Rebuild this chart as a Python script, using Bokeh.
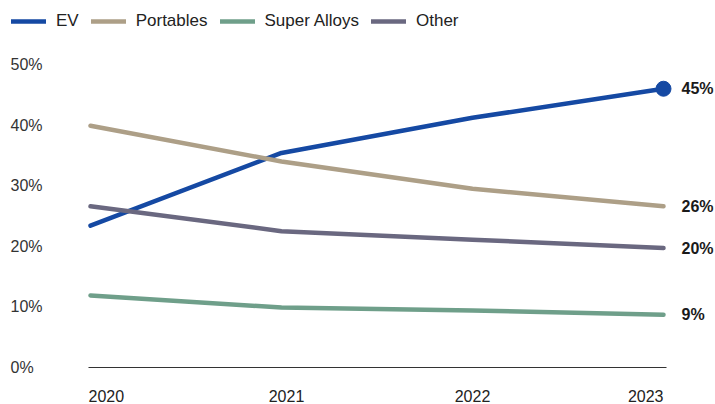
from bokeh.plotting import figure
from bokeh.models import Range1d, ColumnDataSource, Legend, LegendItem
from bokeh.core.properties import value
from bokeh.embed import file_html
from bokeh.resources import INLINE

years = [2020, 2021, 2022, 2023]
series_names = ["EV", "Portables", "Super Alloys", "Other"]
ev = [23.4, 35.4, 41.2, 46.0]
portables = [39.9, 34.0, 29.5, 26.6]
super_alloys = [11.9, 9.9, 9.4, 8.7]
other = [26.6, 22.5, 21.1, 19.7]
end_labels = ["45%", "26%", "9%", "20%"]
y_ticks = [0, 10, 20, 30, 40, 50]
y_tick_labels = ["0%", "10%", "20%", "30%", "40%", "50%"]
colors = ["#1549a3", "#ad9f87", "#6f9f8a", "#6a6880"]

W, H = 715, 404
# pixel layout: 2020 at x=90, 2023 at x=663; 0% at y=367, 10% = 60.6 px
px_per_year = (663 - 90) / 3.0
x0 = years[0] - 90 / px_per_year
x1 = years[-1] + (W - 663) / px_per_year
px_per_pct = 6.06
y_bottom = -(H - 367) / px_per_pct
y_top = 367 / px_per_pct

p = figure(width=W, height=H, output_backend="svg", toolbar_location=None,
           x_range=Range1d(x0, x1), y_range=Range1d(y_bottom, y_top),
           x_axis_type=None, y_axis_type=None,
           min_border=0, min_border_left=0, min_border_right=0,
           min_border_top=0, min_border_bottom=0)
p.outline_line_color = None
p.grid.visible = False
p.background_fill_color = "white"
p.border_fill_color = "white"

FONT = value("Liberation Sans")

# baseline
p.segment(x0=[years[0] - 2 / px_per_year], y0=[0], x1=[years[-1] + 3 / px_per_year], y1=[0],
          line_color="#333333", line_width=1.2)

data = [ev, portables, super_alloys, other]
items = []
for name, vals, col in zip(series_names, data, colors):
    r = p.line(years, vals, line_color=col, line_width=4.5, line_cap="round", line_join="round")
    items.append(LegendItem(label=name, renderers=[r]))

# EV end marker
p.scatter([years[-1]], [ev[-1]], size=15, color=colors[0])

# end labels
end_vals = [ev[-1], portables[-1], super_alloys[-1], other[-1]]
p.text(x=[years[-1]] * 4, y=end_vals, text=end_labels, x_offset=18,
       text_font=FONT, text_font_size="16px", text_font_style="bold",
       text_color="#1a1a1a", text_baseline="middle", text_align="left")

# y tick labels, left aligned at x=10px
p.text(x=[x0 + 10 / px_per_year] * len(y_ticks), y=y_ticks, text=y_tick_labels,
       text_font=FONT, text_font_size="16px", text_color="#333333",
       text_baseline="middle", text_align="left")

# year labels
aligns = ["left", "center", "center", "right"]
xoffs = [-2, 5, 0, 0]
src = ColumnDataSource(dict(x=years, y=[0] * 4, t=[str(y) for y in years], a=aligns, xo=xoffs))
p.text(x="x", y="y", text="t", source=src, text_align="a", x_offset="xo", y_offset=28,
       text_font=FONT, text_font_size="16px", text_color="#222222", text_baseline="middle")

legend = Legend(items=items, orientation="horizontal", location="top_left",
                glyph_width=35, glyph_height=20, label_standoff=10, spacing=12,
                margin=11, padding=0, label_text_font="Liberation Sans",
                label_text_font_size="17px", label_text_color="#222222",
                background_fill_alpha=0, border_line_color=None)
p.add_layout(legend)

open("out.html", "w").write(file_html(p, INLINE))
